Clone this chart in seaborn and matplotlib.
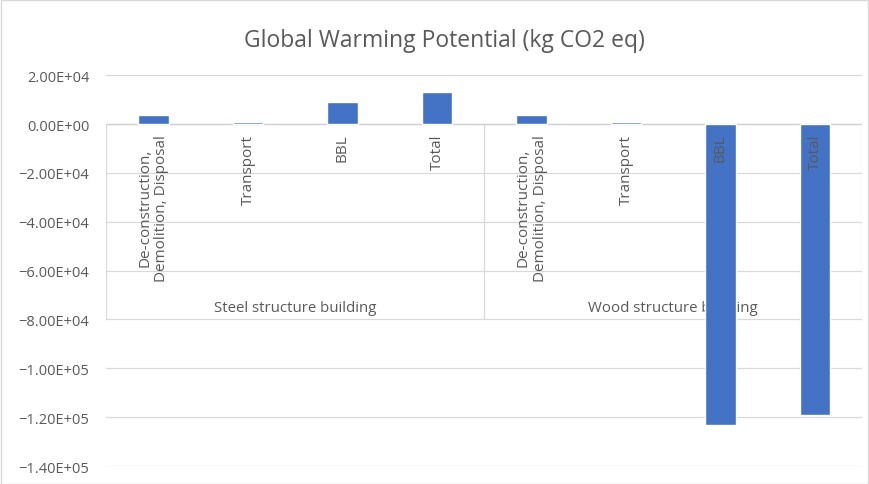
import matplotlib
matplotlib.use("Agg")
import matplotlib.pyplot as plt
import matplotlib.patches as mpatches
from matplotlib.ticker import FuncFormatter, MultipleLocator
import pandas as pd
import seaborn as sns

# data
groups = ["Steel structure building", "Wood structure building"]
stages = ["De-construction,\nDemolition, Disposal", "Transport", "BBL", "Total"]
steel_values = [3.6e3, 8.0e2, 8.9e3, 1.29e4]
wood_values = [3.6e3, 8.0e2, -1.23e5, -1.19e5]
y_range = (-1.4e5, 2.0e4)

rows = []
for g, vals in zip(groups, [steel_values, wood_values]):
    for s, v in zip(stages, vals):
        rows.append({"group": g, "stage": s, "key": f"{g}|{s}", "value": v})
df = pd.DataFrame(rows)

sns.set_theme(style="white")
plt.rcParams["font.family"] = ["Open Sans", "DejaVu Sans"]

text_col = "#595959"
grid_col = "#D9D9D9"
bar_col = "#4472C4"


def sci_fmt(v, pos):
    s = f"{v:.2E}"
    return s.replace("-", "\u2212", 1) if s.startswith("-") else s


fig = plt.figure(figsize=(8.7, 4.85), dpi=100)
ax = fig.add_axes([0.122, 0.037, 0.869, 0.806])

sns.barplot(data=df, x="key", y="value", order=df["key"].tolist(),
            color=bar_col, saturation=1, width=0.32, ax=ax, zorder=3)

ax.set_xlim(-0.5, len(df) - 0.5)
ax.set_ylim(*y_range)
ax.yaxis.set_major_locator(MultipleLocator(2e4))
ax.yaxis.set_major_formatter(FuncFormatter(sci_fmt))
ax.tick_params(axis="y", length=0, pad=12, labelsize=10.5, labelcolor=text_col)
ax.set_xticks([])
ax.set_xlabel("")
ax.set_ylabel("")
for sp in ax.spines.values():
    sp.set_visible(False)
ax.grid(axis="y", color=grid_col, linewidth=0.9, zorder=0)
ax.set_axisbelow(True)

# excel style category box under the zero line
ax.axhline(0, color="#CFCFCF", linewidth=0.9, zorder=1)
ax.vlines([-0.5, 3.5, 7.5], -8e4, 0, color=grid_col, linewidth=0.9, zorder=1)

for i, row in df.iterrows():
    ax.annotate(row["stage"], xy=(i, 0), xytext=(0, -7), textcoords="offset points",
                rotation=90, ha="center", va="top", multialignment="center",
                fontsize=11, color=text_col, zorder=4)

for j, g in enumerate(groups):
    ax.annotate(g, xy=(j * 4 + 1.5, -8e4), xytext=(0, 3), textcoords="offset points",
                ha="center", va="bottom", fontsize=10.8, color=text_col, zorder=1)

fig.text(0.511, 0.915, "Global Warming Potential (kg CO2 eq)", ha="center", va="center",
         fontsize=16.5, color=text_col)

# chart area border
fig.patches.append(mpatches.Rectangle((0.001, 0.001), 0.997, 0.997, transform=fig.transFigure,
                                      fill=False, edgecolor=grid_col, linewidth=1))

fig.savefig("out.png", dpi=100)
